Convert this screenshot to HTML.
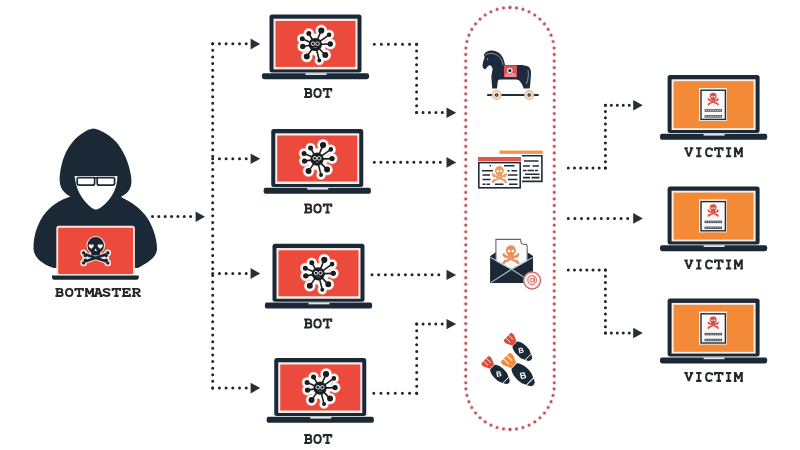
<!DOCTYPE html>
<html><head><meta charset="utf-8">
<style>
html,body{margin:0;padding:0;background:#ffffff;width:800px;height:450px;overflow:hidden}
svg{display:block;will-change:transform}
text{font-family:"Liberation Mono",monospace;font-weight:bold;fill:#2e3236;font-size:16px}
</style></head>
<body>
<svg width="800" height="450" viewBox="0 0 800 450">
<defs>
  <!-- laptop shell: frame top-left at 0,0; frame 92x58 -->
  <g id="shell">
    <rect x="0" y="0" width="92" height="58" rx="2.5" fill="#1b2937"/>
    <rect x="4" y="4.3" width="84" height="50.7" fill="#fbeee8"/>
    <path d="M-5.6 58.8 H97.6 Q99.6 58.8 99.6 61 V62.4 Q99.6 64.8 97 64.8 H-5 Q-7.6 64.8 -7.6 62.4 V61 Q-7.6 58.8 -5.6 58.8 Z" fill="#1b2937"/>
    <rect x="36" y="58.8" width="21" height="1.8" fill="#dfe6ea"/>
  </g>
  <g id="botscreen">
    <rect x="6" y="6.5" width="80" height="46" fill="#eb4a3d"/>
  </g>
  <g id="virus"><path d="M0 0L6 -14M0 0L-6.5 -11M0 0L13.8 -9.7M0 0L-13 -5.7M0 0L-12.5 2M0 0L15 -0.5M0 0L-8.5 12M0 0L10 10.5M0 0L4 16" stroke="#f6b7ab" stroke-width="6.6" stroke-linecap="round"/><path d="M0.00 -14a6.00 6.00 0 1 0 12.00 0a6.00 6.00 0 1 0 -12.00 0M-11.90 -11a5.40 5.40 0 1 0 10.80 0a5.40 5.40 0 1 0 -10.80 0M8.60 -9.7a5.20 5.20 0 1 0 10.40 0a5.20 5.20 0 1 0 -10.40 0M-18.40 -5.7a5.40 5.40 0 1 0 10.80 0a5.40 5.40 0 1 0 -10.80 0M-18.10 2a5.60 5.60 0 1 0 11.20 0a5.60 5.60 0 1 0 -11.20 0M9.40 -0.5a5.60 5.60 0 1 0 11.20 0a5.60 5.60 0 1 0 -11.20 0M-14.40 12a5.90 5.90 0 1 0 11.80 0a5.90 5.90 0 1 0 -11.80 0M4.10 10.5a5.90 5.90 0 1 0 11.80 0a5.90 5.90 0 1 0 -11.80 0M-0.90 16a4.90 4.90 0 1 0 9.80 0a4.90 4.90 0 1 0 -9.80 0M-11.20 0a11.20 11.20 0 1 0 22.40 0a11.20 11.20 0 1 0 -22.40 0" fill="#f6b7ab"/><path d="M0 0L6 -14M0 0L-6.5 -11M0 0L13.8 -9.7M0 0L-13 -5.7M0 0L-12.5 2M0 0L15 -0.5M0 0L-8.5 12M0 0L10 10.5M0 0L4 16" stroke="#ffffff" stroke-width="5.4" stroke-linecap="round"/><path d="M0.70 -14a5.30 5.30 0 1 0 10.60 0a5.30 5.30 0 1 0 -10.60 0M-11.20 -11a4.70 4.70 0 1 0 9.40 0a4.70 4.70 0 1 0 -9.40 0M9.30 -9.7a4.50 4.50 0 1 0 9.00 0a4.50 4.50 0 1 0 -9.00 0M-17.70 -5.7a4.70 4.70 0 1 0 9.40 0a4.70 4.70 0 1 0 -9.40 0M-17.40 2a4.90 4.90 0 1 0 9.80 0a4.90 4.90 0 1 0 -9.80 0M10.10 -0.5a4.90 4.90 0 1 0 9.80 0a4.90 4.90 0 1 0 -9.80 0M-13.70 12a5.20 5.20 0 1 0 10.40 0a5.20 5.20 0 1 0 -10.40 0M4.80 10.5a5.20 5.20 0 1 0 10.40 0a5.20 5.20 0 1 0 -10.40 0M-0.20 16a4.20 4.20 0 1 0 8.40 0a4.20 4.20 0 1 0 -8.40 0M-10.50 0a10.50 10.50 0 1 0 21.00 0a10.50 10.50 0 1 0 -21.00 0" fill="#ffffff"/><path d="M0 0L6 -14M0 0L-6.5 -11M0 0L13.8 -9.7M0 0L-13 -5.7M0 0L-12.5 2M0 0L15 -0.5M0 0L-8.5 12M0 0L10 10.5M0 0L4 16" stroke="#1a1c20" stroke-width="1.6" stroke-linecap="round"/><path d="M2.90 -14a3.10 3.10 0 1 0 6.20 0a3.10 3.10 0 1 0 -6.20 0M-9.00 -11a2.50 2.50 0 1 0 5.00 0a2.50 2.50 0 1 0 -5.00 0M11.50 -9.7a2.30 2.30 0 1 0 4.60 0a2.30 2.30 0 1 0 -4.60 0M-15.50 -5.7a2.50 2.50 0 1 0 5.00 0a2.50 2.50 0 1 0 -5.00 0M-15.20 2a2.70 2.70 0 1 0 5.40 0a2.70 2.70 0 1 0 -5.40 0M12.30 -0.5a2.70 2.70 0 1 0 5.40 0a2.70 2.70 0 1 0 -5.40 0M-11.50 12a3.00 3.00 0 1 0 6.00 0a3.00 3.00 0 1 0 -6.00 0M7.00 10.5a3.00 3.00 0 1 0 6.00 0a3.00 3.00 0 1 0 -6.00 0M2.00 16a2.00 2.00 0 1 0 4.00 0a2.00 2.00 0 1 0 -4.00 0M-6.60 0a6.60 6.60 0 1 0 13.20 0a6.60 6.60 0 1 0 -13.20 0" fill="#1a1c20"/><circle cx="-2.2" cy="-0.8" r="1.8" fill="none" stroke="#e8e8e8" stroke-width="1"/><circle cx="2.2" cy="-0.8" r="1.8" fill="none" stroke="#e8e8e8" stroke-width="1"/><path d="M-1.5 3H1.5" stroke="#888" stroke-width="0.8"/></g>
  <g id="skull">
    <path d="M-5.8 4.6 L5.8 10.4 M5.8 4.6 L-5.8 10.4" stroke="currentColor" stroke-width="1.9" fill="none"/>
    <g fill="currentColor">
      <circle cx="-6.4" cy="3.9" r="1.25"/><circle cx="-5.2" cy="5.4" r="1.25"/>
      <circle cx="6.4" cy="3.9" r="1.25"/><circle cx="5.2" cy="5.4" r="1.25"/>
      <circle cx="-6.4" cy="11.1" r="1.25"/><circle cx="-5.2" cy="9.6" r="1.25"/>
      <circle cx="6.4" cy="11.1" r="1.25"/><circle cx="5.2" cy="9.6" r="1.25"/>
      <circle cx="0" cy="0" r="4.5"/>
      <rect x="-2.7" y="1.4" width="5.4" height="4.6" rx="1.2"/>
    </g>
    <circle cx="-1.7" cy="0.6" r="1.15" fill="#fff"/><circle cx="1.7" cy="0.6" r="1.15" fill="#fff"/>
  </g>
  <g id="bombbody">
    <path fill="#1b2937" d="M11 -3.4 C13.6 -6.4 21 -7.2 26.2 -6 L29.8 -4.4 V4.4 L26.2 6 C21 7.2 13.6 6.4 11 3.4 Z"/>
    <path fill="#1b2937" d="M30.6 -4.2 L33.6 -2.4 Q35.6 0 33.6 2.4 L30.6 4.2 Z"/>
  </g>
  <g id="bombtail">
    <path d="M0 -4.6 Q0 -6 1.6 -6 H4 L10.4 -3 V3 L4 6 H1.6 Q0 6 0 4.6 Z"/>
    <path d="M0 -2 H6.5 M0 2 H6.5" stroke="#fff" stroke-width="0.9" opacity="0.9"/>
  </g>
  <g id="vicdoc">
    <rect x="31.4" y="13" width="27.8" height="33" fill="#fdf3ea"/>
    <rect x="33.4" y="15.2" width="24.4" height="29.2" fill="#f9f9f9" stroke="#1f2a36" stroke-width="1.4"/>
    <use href="#skull" transform="translate(45.6 21.2) scale(0.74)" style="color:#e2483c"/>
    <rect x="37" y="34.3" width="17.4" height="2.4" fill="#3a4450"/>
    <rect x="37" y="40.2" width="17.4" height="2.4" fill="#3a4450"/>
    <path d="M38 35.5 H53.4 M38 41.4 H53.4" stroke="#e8ecef" stroke-width="0.8" stroke-dasharray="1.6 0.7"/>
  </g>
  <g id="vicscreen">
    <rect x="6" y="6.2" width="80" height="47" fill="#f38a38"/>
  </g>
<g id="glyphdefs"><path id="gB" d="M1.3 0.9H6.2C7.7 0.9 8.1 1.9 8.1 2.75C8.1 3.9 7.2 4.7 6.0 4.7H3.2M3.2 4.7H6.5C7.9 4.7 8.5 5.7 8.5 6.75C8.5 7.9 7.7 8.7 6.5 8.7H1.3M3.2 0.9V8.7"/><path id="gO" d="M4.95 0.9C7.0 0.9 8.15 2.7 8.15 4.8C8.15 6.9 7.0 8.7 4.95 8.7C2.9 8.7 1.75 6.9 1.75 4.8C1.75 2.7 2.9 0.9 4.95 0.9Z"/><path id="gT" d="M1.2 3.3V0.9H8.7V3.3M4.95 0.9V8.7M2.7 8.7H7.2"/><path id="gV" d="M0.5 0.9H3.9M6.0 0.9H9.4M1.9 0.9L4.95 8.8L8.0 0.9"/><path id="gI" d="M2.3 0.9H7.6M4.95 0.9V8.7M2.3 8.7H7.6"/><path id="gC" d="M8.0 3.2V0.9M8.0 2.3C7.3 1.3 6.3 0.9 5.2 0.9C3.0 0.9 2.0 2.8 2.0 4.8C2.0 7.0 3.2 8.7 5.2 8.7C6.5 8.7 7.4 8.2 8.0 7.4"/><path id="gM" d="M0.4 0.9H2.3L4.95 6.8L7.6 0.9H9.5M1.6 0.9V8.7M8.3 0.9V8.7M0.4 8.7H3.2M6.7 8.7H9.5"/><path id="gA" d="M0.5 8.7H3.6M6.3 8.7H9.4M1.9 8.7L4.3 0.9H2.2M4.3 0.9H5.6L8.0 8.7M3.0 6.0H6.9"/><path id="gS" d="M7.7 0.9V3.0M7.7 2.0C7.1 1.2 6.1 0.9 5.0 0.9C3.2 0.9 2.2 1.8 2.2 2.8C2.2 4.0 3.2 4.4 5.0 4.8C6.9 5.2 7.9 5.7 7.9 6.8C7.9 8.0 6.8 8.7 4.9 8.7C3.6 8.7 2.6 8.3 2.0 7.6M2.0 6.5V8.7"/><path id="gE" d="M0.9 0.9H8.3V3.1M2.7 0.9V8.7M0.9 8.7H8.7V6.3M2.7 4.8H6.0M6.0 3.4V6.2"/><path id="gR" d="M0.8 0.9H6.0C7.6 0.9 8.3 1.9 8.3 3.0C8.3 4.2 7.5 5.0 6.0 5.0H2.6M2.6 0.9V8.7M0.8 8.7H4.3M5.3 5.0L7.6 8.7H9.5"/></g>
</defs>

<!-- ============ connectors (dark dots) ============ -->
<g stroke="#222428" stroke-width="3" stroke-linecap="round" fill="none">
  <!-- botmaster arrow -->
  <path d="M152.5 216.6 H191.40" stroke-dasharray="0 6.35"/>
  <!-- vertical trunk -->
  <path d="M212.7 43.75 V388.50" stroke-dasharray="0 6.62"/>
  <!-- row arrows -->
  <path d="M212.7 43.75 H246.60" stroke-dasharray="0 6.7"/>
  <path d="M212.7 158.75 H246.60" stroke-dasharray="0 6.7"/>
  <path d="M212.7 273.5 H246.60" stroke-dasharray="0 6.7"/>
  <path d="M212.7 388.1 H246.60" stroke-dasharray="0 6.7"/>
  <!-- bot1 -> horse -->
  <path d="M374.3 44.25 H417.00" stroke-dasharray="0 7.05"/>
  <path d="M416.6 44.25 V112.90" stroke-dasharray="0 6.82"/>
  <path d="M416.6 112.5 H442.70" stroke-dasharray="0 6.42"/>
  <!-- bot2 -->
  <path d="M374.3 162.2 H440.70" stroke-dasharray="0 6.6"/>
  <!-- bot3 -->
  <path d="M372 274.75 H439.20" stroke-dasharray="0 6.68"/>
  <!-- bot4 -->
  <path d="M373.8 393.2 H417.10" stroke-dasharray="0 7.15"/>
  <path d="M416.7 393.2 V323.50" stroke-dasharray="0 6.93"/>
  <path d="M416.7 323.9 H442.60" stroke-dasharray="0 6.37"/>
  <!-- right connectors -->
  <path d="M568.3 168 H605.80" stroke-dasharray="0 6.18"/>
  <path d="M605.4 168 V104.80" stroke-dasharray="0 6.28"/>
  <path d="M605.4 105.2 H629.60" stroke-dasharray="0 5.95"/>
  <path d="M568.3 218.6 H628.10" stroke-dasharray="0 6.6"/>
  <path d="M568.3 270 H605.80" stroke-dasharray="0 6.18"/>
  <path d="M605.4 270 V333.40" stroke-dasharray="0 6.3"/>
  <path d="M605.4 333 H629.60" stroke-dasharray="0 5.95"/>
</g>
<g fill="#25303d">
  <path d="M195.6 211.5 L205 216.7 L195.6 221.9 Z"/>
  <path d="M250.6 38.6 L260.2 44 L250.6 49.4 Z"/>
  <path d="M250.6 153.4 L260.2 158.75 L250.6 164.1 Z"/>
  <path d="M250.6 268.1 L260.2 273.5 L250.6 278.9 Z"/>
  <path d="M250.6 382.7 L260.2 388.1 L250.6 393.5 Z"/>
  <path d="M446.5 107.5 L456.2 112.7 L446.5 117.9 Z"/>
  <path d="M446.5 157.1 L456.2 162.4 L446.5 167.7 Z"/>
  <path d="M446.5 269.7 L456.2 274.9 L446.5 280.1 Z"/>
  <path d="M446.5 318.9 L456.2 324.1 L446.5 329.3 Z"/>
  <path d="M633.2 100 L642.8 105.3 L633.2 110.6 Z"/>
  <path d="M633.2 213.1 L642.8 218.4 L633.2 223.7 Z"/>
  <path d="M633.2 327.7 L642.8 333 L633.2 338.3 Z"/>
</g>

<!-- red capsule -->
<g fill="none" stroke-linecap="round">
  <g stroke="#f7dcdc" stroke-width="4.6" stroke-dasharray="0 6.566">
    <path d="M510 7.5 A44.25 44.25 0 0 0 465.75 51.75"/><path d="M510 7.5 A44.25 44.25 0 0 1 554.25 51.75"/>
    <path d="M510 429.5 A44.25 44.25 0 0 1 465.75 385.25"/><path d="M510 429.5 A44.25 44.25 0 0 0 554.25 385.25"/>
    <path d="M465.75 54.5 V383.1"/><path d="M554.25 54.5 V383.1"/>
  </g>
  <g stroke="#b8545a" stroke-width="2.8" stroke-dasharray="0 6.566">
    <path d="M510 7.5 A44.25 44.25 0 0 0 465.75 51.75"/><path d="M510 7.5 A44.25 44.25 0 0 1 554.25 51.75"/>
    <path d="M510 429.5 A44.25 44.25 0 0 1 465.75 385.25"/><path d="M510 429.5 A44.25 44.25 0 0 0 554.25 385.25"/>
    <path d="M465.75 54.5 V383.1"/><path d="M554.25 54.5 V383.1"/>
  </g>
</g>

<!-- ============ bots ============ -->
<g transform="translate(269.5 14.4)"><use href="#shell"/><use href="#botscreen"/><use href="#virus" x="45.8" y="30.1"/></g>
<g transform="translate(271.25 129)"><use href="#shell"/><use href="#botscreen"/><use href="#virus" x="45.8" y="30.1"/></g>
<g transform="translate(272.5 243.75)"><use href="#shell"/><use href="#botscreen"/><use href="#virus" x="45.8" y="30.1"/></g>
<g transform="translate(274.25 358)"><use href="#shell"/><use href="#botscreen"/><use href="#virus" x="45.8" y="30.1"/></g>

<!-- ============ victims ============ -->
<g transform="translate(667.6 75)"><use href="#shell"/><use href="#vicscreen"/><use href="#vicdoc"/></g>
<g transform="translate(667.6 186.4)"><use href="#shell"/><use href="#vicscreen"/><use href="#vicdoc"/></g>
<g transform="translate(667.6 298.6)"><use href="#shell"/><use href="#vicscreen"/><use href="#vicdoc"/></g>


<!-- ============ botmaster ============ -->
<g id="botmaster">
  <path fill="#1b2937" d="M93.5 128.6 C99 129.4 108.5 134 116.2 142 C123.5 150.5 128.6 162 130.8 174.5 C132.6 185 131 192 121 197
    C131 202 141 208 148 219 C154 229 157 240 157 249 C156.5 257 149 262 138 268 L54 268
    C44 265 35 259 33.6 250 C33 239 36 227 43 216 C50 206 60 200 70.4 196.5
    C61 192 58.5 184 60 174 C61.5 161 66 149.5 73 141.5 C79.5 134.5 87 129.4 93.5 128.6 Z"/>
  <path fill="#ffffff" d="M74.6 176 L117.4 176 C117.6 186 113 197 104.5 204.5 C100.5 208 98 209.5 96 209.5 C93.5 209.5 90 207 86.5 203 C79 195 75.5 186 74.6 175.2 Z"/>
  <g fill="none" stroke="#1b2937" stroke-width="1.7">
    <path d="M77.2 177.6 H94.6 V183.2 Q94.6 185.2 92.6 185.2 H79.6 Q77.2 185.2 77.2 183 Z"/>
    <path d="M97.2 177.6 H114.6 V183 Q114.6 185.2 112.2 185.2 H99.2 Q97.2 185.2 97.2 183.2 Z"/>
    <path d="M94.6 177.6 Q95.9 178.6 97.2 177.6" stroke-width="1.5"/>
    <path d="M74.8 177.4 H77.2 M114.6 177.4 H117" stroke="#e8ecef" stroke-width="1.3"/>
  </g>
  <rect x="56.3" y="225.8" width="78.6" height="49.2" rx="2.4" fill="#fbe4dc"/>
  <rect x="58.2" y="227.7" width="74.8" height="46.3" rx="1" fill="#eb4a3d"/>
  <path d="M52 275.4 H138.8 V277.6 Q138.8 279.8 136.5 279.8 H54.3 Q52 279.8 52 277.6 Z" fill="#1b2937"/>
  <!-- skull -->
  <g stroke="#fbe9e4" stroke-width="2" stroke-linecap="round">
    <path d="M85 254.2 L106.4 261.6 M106.4 254.2 L85 261.6" stroke-width="4.6"/>
    <circle cx="83.6" cy="252.9" r="2.3"/><circle cx="85.3" cy="255.6" r="2.3"/>
    <circle cx="107.8" cy="252.9" r="2.3"/><circle cx="106.1" cy="255.6" r="2.3"/>
    <circle cx="83.6" cy="262.9" r="2.3"/><circle cx="85.3" cy="260.2" r="2.3"/>
    <circle cx="107.8" cy="262.9" r="2.3"/><circle cx="106.1" cy="260.2" r="2.3"/>
    <circle cx="95.7" cy="245.4" r="8.3"/>
    <rect x="91.2" y="249" width="9" height="6.4" rx="2"/>
  </g>
  <g fill="#1a2430" stroke="none">
    <path d="M85 254.2 L106.4 261.6 M106.4 254.2 L85 261.6" stroke="#1a2430" stroke-width="2.6"/>
    <circle cx="83.6" cy="252.9" r="1.7"/><circle cx="85.3" cy="255.6" r="1.7"/>
    <circle cx="107.8" cy="252.9" r="1.7"/><circle cx="106.1" cy="255.6" r="1.7"/>
    <circle cx="83.6" cy="262.9" r="1.7"/><circle cx="85.3" cy="260.2" r="1.7"/>
    <circle cx="107.8" cy="262.9" r="1.7"/><circle cx="106.1" cy="260.2" r="1.7"/>
    <circle cx="95.7" cy="245.4" r="8.3"/>
    <rect x="91.2" y="249" width="9" height="6.4" rx="2"/>
  </g>
  <path fill="#f4f4f4" d="M88.6 245.6 C88.6 244 90.6 243.6 91.2 245 C91.8 243.6 93.8 244 93.8 245.6 C93.8 247.2 92 248.4 91.2 249 C90.4 248.4 88.6 247.2 88.6 245.6 Z"/>
  <path fill="#f4f4f4" d="M97.6 245.6 C97.6 244 99.6 243.6 100.2 245 C100.8 243.6 102.8 244 102.8 245.6 C102.8 247.2 101 248.4 100.2 249 C99.4 248.4 97.6 247.2 97.6 245.6 Z"/>
  <path fill="#e8e8e8" d="M95.7 248.2 L97 251 H94.4 Z"/>
</g>


<!-- ============ trojan horse ============ -->
<g id="horse">
  <path fill="#1c2a3b" d="M484 54.6 C485.5 51.5 489 50.3 492.5 50.6 C497 51 500.5 53.5 502.5 57 C504 60 504.6 62.5 505 65.2
    L518 65 C522 64.8 526 65.2 528.6 66.8 C530.6 68.5 531.2 71 531 74 L530.4 82 C530.2 85 529.9 87 529.6 88.4 L523.6 88.4
    C522.8 85.6 521.2 82.6 519.2 80.6 C518 79.6 516.6 79.4 514.6 79.4 L500 79.6 C498.6 79.8 497.8 80.8 497.6 82.4 L497 88.4 L492.2 88.4
    L491.4 78 C491.3 75 492.2 72 492.6 69.6 C492.6 67.6 491.6 66 490 65.2 C488.6 65.4 487.6 66.4 486.8 67.6 C486.2 68.8 485.4 69.4 484.6 69.2
    C483.2 68.6 482.4 67 482.5 65 C482.8 62.4 483.6 60 484.6 57.6 C484.4 56.6 484 55.6 484 54.6 Z"/>
  <path fill="none" stroke="#a9c4d8" stroke-width="0.7" d="M485 55.2 C489 52.5 494 53 498 55.6 C501 58 502.6 61.5 503.2 65.2"/>
  <path fill="none" stroke="#a9c4d8" stroke-width="0.7" d="M528 70 C528.8 74 528.4 79 526.4 84"/>
  <circle cx="487.6" cy="59.2" r="0.6" fill="#c8d8e8"/>
  <rect x="504" y="65.4" width="13" height="11.8" fill="#d9525a"/>
  <rect x="505" y="73.5" width="11" height="3.5" fill="#e58c8c"/>
  <circle cx="509.8" cy="70.6" r="2.8" fill="#f7e8e8"/>
  <circle cx="509.8" cy="70.6" r="1.6" fill="#1c2a3b"/>
  <circle cx="512.6" cy="73.6" r="0.7" fill="#f7e8e8"/>
  <path d="M487.2 95 H538.6" stroke="#222c38" stroke-width="2.2"/>
  <circle cx="496.6" cy="95" r="4.5" fill="#f8dcc0" stroke="#e2b48a" stroke-width="1.1"/>
  <circle cx="529.2" cy="95" r="4.5" fill="#f8dcc0" stroke="#e2b48a" stroke-width="1.1"/>
  <circle cx="496.6" cy="95" r="1.8" fill="#2a2f38"/>
  <circle cx="529.2" cy="95" r="1.8" fill="#2a2f38"/>
  <circle cx="496.6" cy="95" r="0.6" fill="#eee"/>
  <circle cx="529.2" cy="95" r="0.6" fill="#eee"/>
</g>


<!-- ============ phishing windows ============ -->
<g id="docs">
  <rect x="499.5" y="150.5" width="43.3" height="3.4" fill="#ee9a4a"/>
  <path d="M522 155.8 H541.9 V181.4 H522" fill="#fff" stroke="#222c37" stroke-width="1.6"/>
  <g stroke="#222b35" stroke-width="1.55" fill="none">
    <path d="M524 161 H538.5 M523 166 H530 M532.5 166 H539 M523 170.5 H526.5 M527.5 170.5 H534 M535 170.5 H538 M525 174.2 H539.5 M523 177.6 H530 M531.5 177.6 H539.5"/>
  </g>
  <rect x="478" y="157" width="43" height="4" fill="#e2574a"/>
  <rect x="478.8" y="162.6" width="41.4" height="25.2" fill="#fff" stroke="#222c37" stroke-width="1.6"/>
  <g stroke="#222b35" stroke-width="1.55" fill="none">
    <path d="M489.6 165.8 H491 M504 165.8 H514.5 M482 170.8 H493 M507.5 170.8 H509.5 M511.5 170.8 H517 M482.5 175 H490 M508 175 H517.5 M482.5 179.5 H490.5 M508 179.5 H517.5 M482.5 184.2 H485.5 M486.5 184.2 H490 M495 184.2 H503.5 M509 184.2 H517.5"/>
  </g>
  <use href="#skull" transform="translate(499.4 170.6)" style="color:#f09a5a"/>
</g>


<!-- ============ email ============ -->
<g id="email">
  <path fill="#1b2937" d="M490.3 283 V256 L496.2 252 H527 L533 256 V283 Z"/>
  <path fill="#fdfdfd" stroke="#5d6773" stroke-width="1.1" d="M495.9 272 V239.4 H520.6 C520.8 242 521.2 243.6 522.6 244 L526.6 244.6 C527.2 245.2 527.2 246 527.2 247 V272"/>
  <use href="#skull" transform="translate(510.9 250.4) scale(1.12)" style="color:#ec9058"/>
  <path fill="#1b2937" d="M490.3 258 L511.6 269.8 L533 258 V283 H490.3 Z"/>
  <path fill="none" stroke="#b4bec8" stroke-width="1.1" d="M490.6 257.6 L511.6 269.2 L532.7 257.6 M490.8 282.6 L511.6 269.2 L532.4 282.6"/>
  <circle cx="532.1" cy="280.5" r="8.5" fill="#fbe9e7" stroke="#c8716d" stroke-width="1.4"/>
  <path d="M535.2 283.6 C533.6 284.8 531 285 529.4 283.6 C527.4 281.9 527.2 278.8 529 277 C530.8 275.2 534 275.3 535.6 277.3 C536.6 278.6 536.8 280.6 536.2 281.8 C535.7 282.8 534.4 282.6 534.4 281.4 V277.6" fill="none" stroke="#c46a66" stroke-width="1"/>
  <circle cx="532.2" cy="280.2" r="1.9" fill="none" stroke="#c46a66" stroke-width="0.95"/>
</g>


<!-- ============ bombs ============ -->
<g id="bombs">
  <g transform="translate(507.2 336.5) rotate(44.3) scale(0.97)"><use href="#bombtail" fill="#e2493d"/><use href="#bombbody"/></g>
  <text x="521.1" y="353.1" text-anchor="middle" style="font-family:'Liberation Sans',sans-serif;font-size:7.5px;fill:#fff;font-weight:bold" transform="rotate(-12 521.1 350.5)">B</text>
  <g transform="translate(484.8 359.7) rotate(44.2) scale(0.97)"><use href="#bombtail" fill="#e2493d"/><use href="#bombbody"/></g>
  <text x="499" y="376.4" text-anchor="middle" style="font-family:'Liberation Sans',sans-serif;font-size:7.5px;fill:#fff;font-weight:bold" transform="rotate(-12 499 374)">B</text>
  <g transform="translate(505.2 357.2) rotate(44.5) scale(1.15)"><use href="#bombtail" fill="#ef8a3e"/><use href="#bombbody"/></g>
  <text x="523.1" y="378.7" text-anchor="middle" style="font-family:'Liberation Sans',sans-serif;font-size:9px;fill:#fff;font-weight:bold" transform="rotate(-12 523.1 375.5)">B</text>
</g>

<!-- labels -->
<g fill="none" stroke="#26292c" stroke-width="2" stroke-linejoin="miter" stroke-miterlimit="1.6"><use href="#gB" transform="translate(302.85 88.15) scale(1 1.010)"/><use href="#gO" transform="translate(312.60 88.15) scale(1 1.010)"/><use href="#gT" transform="translate(322.55 88.15) scale(1 1.010)"/>
<use href="#gB" transform="translate(302.85 203.70) scale(1 1.010)"/><use href="#gO" transform="translate(312.60 203.70) scale(1 1.010)"/><use href="#gT" transform="translate(322.55 203.70) scale(1 1.010)"/>
<use href="#gB" transform="translate(302.85 318.60) scale(1 1.010)"/><use href="#gO" transform="translate(312.60 318.60) scale(1 1.010)"/><use href="#gT" transform="translate(322.55 318.60) scale(1 1.010)"/>
<use href="#gB" transform="translate(302.85 434.15) scale(1 1.010)"/><use href="#gO" transform="translate(312.60 434.15) scale(1 1.010)"/><use href="#gT" transform="translate(322.55 434.15) scale(1 1.010)"/>
<use href="#gV" transform="translate(683.85 147.40) scale(1 1.021)"/><use href="#gI" transform="translate(693.85 147.40) scale(1 1.021)"/><use href="#gC" transform="translate(704.05 147.40) scale(1 1.021)"/><use href="#gT" transform="translate(713.85 147.40) scale(1 1.021)"/><use href="#gI" transform="translate(723.65 147.40) scale(1 1.021)"/><use href="#gM" transform="translate(733.45 147.40) scale(1 1.021)"/>
<use href="#gV" transform="translate(683.85 259.60) scale(1 1.021)"/><use href="#gI" transform="translate(693.85 259.60) scale(1 1.021)"/><use href="#gC" transform="translate(704.05 259.60) scale(1 1.021)"/><use href="#gT" transform="translate(713.85 259.60) scale(1 1.021)"/><use href="#gI" transform="translate(723.65 259.60) scale(1 1.021)"/><use href="#gM" transform="translate(733.45 259.60) scale(1 1.021)"/>
<use href="#gV" transform="translate(683.85 372.00) scale(1 1.021)"/><use href="#gI" transform="translate(693.85 372.00) scale(1 1.021)"/><use href="#gC" transform="translate(704.05 372.00) scale(1 1.021)"/><use href="#gT" transform="translate(713.85 372.00) scale(1 1.021)"/><use href="#gI" transform="translate(723.65 372.00) scale(1 1.021)"/><use href="#gM" transform="translate(733.45 372.00) scale(1 1.021)"/>
<use href="#gB" transform="translate(54.10 288.00) scale(1 0.917)"/><use href="#gO" transform="translate(64.30 288.00) scale(1 0.917)"/><use href="#gT" transform="translate(74.20 288.00) scale(1 0.917)"/><use href="#gM" transform="translate(84.65 288.00) scale(1 0.917)"/><use href="#gA" transform="translate(93.35 288.00) scale(1 0.917)"/><use href="#gS" transform="translate(101.55 288.00) scale(1 0.917)"/><use href="#gT" transform="translate(111.45 288.00) scale(1 0.917)"/><use href="#gE" transform="translate(121.20 288.00) scale(1 0.917)"/><use href="#gR" transform="translate(131.25 288.00) scale(1 0.917)"/></g>
</svg>
</body></html>
